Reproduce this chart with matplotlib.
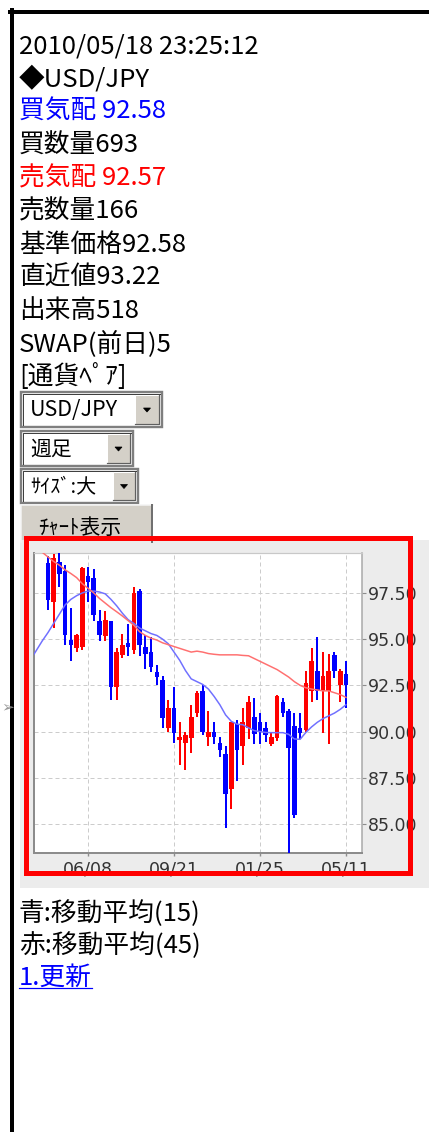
import matplotlib
matplotlib.use('Agg')
import matplotlib.pyplot as plt
from matplotlib.patches import Rectangle, Polygon
import numpy as np

plt.rcParams['font.family'] = ['Noto Sans CJK JP', 'DejaVu Sans']

# ---- page texts ----
info_lines = ['2010/05/18 23:25:12', '◆USD/JPY', '買気配 92.58', '買数量693', '売気配 92.57',
              '売数量166', '基準価格92.58', '直近値93.22', '出来高518', 'SWAP(前日)5', '[通貨ﾍﾟｱ]']
info_colors = ['black', 'black', '#0000ff', 'black', '#ff0000', 'black', 'black', 'black',
               'black', 'black', 'black']
select_labels = ['USD/JPY', '週足', 'ｻｲｽﾞ:大']
button_label = 'ﾁｬｰﾄ表示'
legend_lines = ['青:移動平均(15)', '赤:移動平均(45)']
link_text = '1.更新'

# ---- weekly candles (week index 0..52) ----
opens = [99.1, 97.0, 99.2, 98.7, 94.95, 94.5, 94.6, 98.4, 98.3, 96.0,
         95.15, 96.0, 92.4, 94.15, 94.8, 94.4, 97.6, 94.6, 94.3, 93.2,
         92.8, 90.2, 91.3, 89.55, 89.4, 89.65, 91.0, 92.2, 89.7, 90.0,
         89.4, 88.8, 86.9, 90.4, 89.2, 90.2, 90.8, 90.5, 90.2, 89.3,
         89.65, 91.6, 91.1, 90.3, 90.2, 90.1, 92.2, 93.3, 92.2, 92.2,
         94.15, 92.5, 93.1]
highs = [99.5, 99.6, 99.7, 99.0, 96.7, 95.3, 98.9, 98.9, 98.8, 96.6,
         96.5, 96.0, 94.5, 95.3, 95.8, 97.8, 97.7, 95.2, 95.1, 93.6,
         93.0, 91.7, 92.4, 90.5, 89.95, 91.45, 92.2, 92.5, 91.1, 90.5,
         89.7, 89.2, 90.5, 90.6, 91.3, 91.9, 91.8, 91.0, 90.5, 89.9,
         92.0, 91.8, 91.2, 91.0, 91.0, 93.3, 94.5, 95.1, 94.3, 94.2,
         94.3, 93.4, 93.8]
lows = [96.6, 95.6, 97.8, 94.7, 93.8, 94.3, 94.4, 97.0, 96.0, 94.9,
        94.9, 91.7, 91.7, 94.0, 94.1, 94.2, 94.1, 93.4, 93.2, 92.5,
        90.2, 90.0, 89.4, 88.2, 87.9, 88.85, 90.8, 89.8, 89.2, 89.3,
        88.6, 84.8, 85.8, 87.3, 88.2, 89.6, 89.3, 89.3, 89.45, 89.2,
        89.5, 90.8, 83.3, 85.3, 89.6, 90.0, 91.6, 91.7, 89.9, 89.3,
        92.9, 91.6, 91.3]
closes = [97.1, 99.4, 98.5, 95.2, 94.7, 95.2, 98.85, 98.1, 96.3, 95.2,
          96.05, 92.4, 94.3, 94.7, 94.6, 97.5, 94.7, 94.2, 93.5, 92.95,
          90.75, 91.3, 89.9, 89.7, 89.8, 90.8, 92.1, 90.0, 90.0, 89.7,
          89.0, 86.6, 90.5, 89.0, 90.5, 91.6, 89.85, 89.95, 89.8, 89.7,
          91.9, 91.0, 89.1, 85.5, 89.9, 92.6, 93.8, 92.2, 93.0, 93.3,
          93.3, 93.3, 92.5]

# moving averages, weeks -3..52
ma_weeks = list(range(-3, 53))
ma15 = [93.9, 94.4, 94.9, 95.35, 95.85, 96.35, 96.85, 97.15, 97.35, 97.5,
        97.6, 97.6, 97.55, 97.45, 97.15, 96.8, 96.4, 96.05, 95.85, 95.6,
        95.45, 95.3, 95.2, 95.0, 94.75, 94.3, 93.85, 93.3, 92.85, 92.7,
        92.55, 92.3, 91.9, 91.45, 90.9, 90.55, 90.4, 90.37, 90.2, 90.05,
        90.0, 89.95, 89.94, 89.94, 89.94, 89.85, 89.6, 89.58, 89.95, 90.25,
        90.5, 90.7, 90.85, 91.0, 91.2, 91.45]
ma45 = [100.6, 100.1, 99.7, 99.45, 99.2, 99.0, 98.75, 98.55, 98.33, 98.0,
        97.75, 97.5, 97.2, 96.95, 96.7, 96.48, 96.25, 96.0, 95.75, 95.4,
        95.2, 95.05, 94.95, 94.8, 94.7, 94.6, 94.5, 94.4, 94.3, 94.35,
        94.3, 94.22, 94.18, 94.15, 94.15, 94.15, 94.15, 94.12, 94.1, 93.95,
        93.8, 93.65, 93.5, 93.35, 93.15, 92.95, 92.7, 92.5, 92.37, 92.3,
        92.25, 92.2, 92.2, 92.1, 92.0, 91.85]

xtick_weeks = [7, 22, 37, 52]
xtick_labels = ['06/08', '09/21', '01/25', '05/11']
yticks = [85.0, 87.5, 90.0, 92.5, 95.0, 97.5]

W, H = 429, 1132
PX = 0.72  # points per pixel at 100 dpi
FS = 18.5

fig = plt.figure(figsize=(W / 100, H / 100), dpi=100)
fig.patch.set_facecolor('white')

# background axes in pixel coords (y down)
bg = fig.add_axes([0, 0, 1, 1])
bg.set_xlim(0, W)
bg.set_ylim(H, 0)
bg.axis('off')

# page frame
bg.plot([12, 12], [10, H], color='black', lw=4 * PX)
bg.plot([10, W], [12, 12], color='black', lw=4 * PX)

# info lines
for i, s in enumerate(info_lines):
    bg.text(19, 53 + i * 33.1, s, color=info_colors[i], fontsize=FS, va='baseline', ha='left')


def field(x0, y0, x1, y1, bx0, label, fs):
    bg.add_patch(Rectangle((x0, y0), x1 - x0, y1 - y0, fc='white', ec='#7f7f7f', lw=2.4 * PX))
    bg.plot([x0 + 2, x0 + 2, x1 - 2], [y1 - 2, y0 + 2, y0 + 2], color='#404040', lw=1 * PX)
    # drop button
    bx1 = x1 - 3
    bg.add_patch(Rectangle((bx0, y0 + 3), bx1 - bx0, y1 - y0 - 6, fc='#d4d0c8', ec='none'))
    bg.plot([bx0, bx0, bx1], [y1 - 3, y0 + 3, y0 + 3], color='white', lw=1 * PX)
    bg.plot([bx0, bx1, bx1], [y1 - 3, y1 - 3, y0 + 3], color='#606060', lw=1.2 * PX)
    cx, cy = (bx0 + bx1) / 2, (y0 + y1) / 2
    bg.add_patch(Polygon([(cx - 3.5, cy - 1.5), (cx + 3.5, cy - 1.5), (cx, cy + 2.5)],
                         closed=True, fc='black', ec='black', lw=0.5))
    bg.text(x0 + 9, (y0 + y1) / 2 + 1, label, fontsize=fs, va='center', ha='left', color='black')


field(21, 392, 162, 427, 135, select_labels[0], 15.5)
field(21, 431, 133, 466, 107, select_labels[1], 15)
field(21, 469, 138, 503, 113, select_labels[2], 14.5)

# chart button
bg.add_patch(Rectangle((21, 505), 132, 37, fc='#d4d0c8', ec='none'))
bg.plot([21, 21, 153], [542, 505, 505], color='#f4f4f4', lw=1.5 * PX)
bg.plot([152, 152], [505, 542], color='#707070', lw=2 * PX)
bg.text(38, 534, button_label, fontsize=15, va='baseline', ha='left', color='black')

# chart image background
bg.add_patch(Rectangle((20, 540), W - 20, 348, fc='#ececec', ec='none'))
bg.text(1, 707, '➢', fontsize=11, family='DejaVu Sans', color='#9a9a9a', va='center', ha='left')

# legend text and link
for i, s in enumerate(legend_lines):
    bg.text(19, 921 + i * 32, s, fontsize=FS, va='baseline', ha='left', color='black')
link = bg.text(19, 985, link_text, fontsize=FS, va='baseline', ha='left', color='#0000ff')
fig.canvas.draw()
bb = link.get_window_extent().transformed(bg.transData.inverted())
bg.plot([bb.x0, bb.x1], [988, 988], color='#0000ff', lw=1.2 * PX)

# ---- chart ----
x0, x1, y0, y1 = 34, 362, 553, 853
ax = fig.add_axes([x0 / W, 1 - y1 / H, (x1 - x0) / W, (y1 - y0) / H], zorder=5)
ax.set_facecolor('white')

weeks = np.arange(len(opens))
o = np.array(opens)
c = np.array(closes)
cols = np.where(c >= o, '#ff0000', '#0000ff')
bottoms = np.minimum(o, c)
heights = np.maximum(np.abs(c - o), 0.12)
ax.vlines(weeks, lows, highs, colors=cols, lw=2 * PX, zorder=3)
ax.bar(weeks, heights, bottom=bottoms, width=0.8, color=cols, zorder=3, linewidth=0)

ax.plot(ma_weeks, ma15, color='#7070ff', lw=1.5 * PX, zorder=4)
ax.plot(ma_weeks, ma45, color='#ff7070', lw=1.5 * PX, zorder=4)

ax.set_xlim(-2.43, 54.8)
ax.set_ylim(83.43, 99.66)
ax.set_xticks(xtick_weeks)
ax.set_xticklabels(xtick_labels, fontfamily='DejaVu Sans')
ax.set_yticks(yticks)
ax.set_yticklabels(['%.2f' % v for v in yticks], fontfamily='DejaVu Sans')
ax.yaxis.tick_right()
ax.grid(True, color='#cccccc', lw=1 * PX, linestyle=(0, (4, 3)), zorder=0)
ax.set_axisbelow(True)
ax.tick_params(axis='y', length=3, width=0.8, color='#8c8c8c', pad=1.5, labelsize=12.5, labelcolor='#333333')
ax.tick_params(axis='x', length=2.5, width=1, color='#8c8c8c', pad=3, labelsize=12.5, labelcolor='#333333')
for side in ['left', 'bottom']:
    ax.spines[side].set_color('#8c8c8c')
    ax.spines[side].set_linewidth(2 * PX)
ax.spines['top'].set_color('#c8c8c8')
ax.spines['top'].set_linewidth(1.2 * PX)
ax.spines['right'].set_color('#a8a8a8')
ax.spines['right'].set_linewidth(1.5 * PX)

# red highlight frame on top
top = fig.add_axes([0, 0, 1, 1], zorder=10)
top.set_xlim(0, W)
top.set_ylim(H, 0)
top.axis('off')
top.patch.set_alpha(0)
top.add_patch(Rectangle((25.5, 537.5), 384, 335, fill=False, ec='#ff0000', lw=5 * PX))

fig.savefig('out.png', dpi=100)
